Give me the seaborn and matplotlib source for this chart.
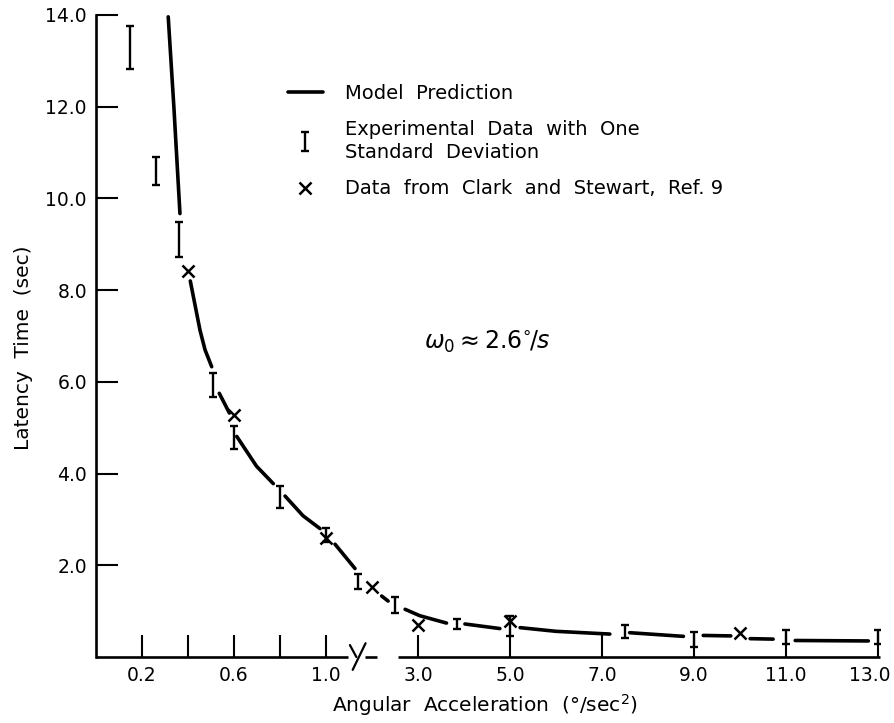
import numpy as np
import pandas as pd
import matplotlib
matplotlib.use("Agg")
import matplotlib.pyplot as plt
import matplotlib.transforms as mtransforms
import seaborn as sns

# ---------------- data ----------------
exp_accel = [0.15, 0.26, 0.36, 0.51, 0.60, 0.80, 1.00, 1.70, 2.50, 3.85, 5.00, 7.50, 9.00, 11.00, 13.00]
exp_latency = [13.30, 10.60, 9.10, 5.93, 4.78, 3.49, 2.66, 1.64, 1.13, 0.72, 0.68, 0.56, 0.38, 0.43, 0.43]
exp_sd = [0.47, 0.31, 0.38, 0.27, 0.25, 0.24, 0.16, 0.16, 0.17, 0.11, 0.22, 0.14, 0.17, 0.15, 0.15]

cs_accel = [0.40, 0.60, 1.00, 2.00, 3.00, 5.00, 10.00]
cs_latency = [8.42, 5.28, 2.60, 1.52, 0.70, 0.79, 0.52]

# model prediction curve, drawn as broken segments around the markers
model_accel = [0.314, 0.339, 0.365,
               0.41, 0.452, 0.474, 0.503,
               0.536, 0.58,
               0.612, 0.698, 0.771,
               0.822, 0.90, 0.974,
               1.196, 1.63,
               2.21, 2.35,
               2.72, 3.04, 3.62,
               4.02, 4.78,
               5.22, 6.0, 7.17,
               7.6, 8.77,
               9.2, 9.8,
               10.22, 10.72,
               11.2, 12.79]
model_latency = [13.96, 11.96, 9.67,
                 8.20, 7.13, 6.70, 6.33,
                 5.75, 5.32,
                 4.81, 4.16, 3.78,
                 3.51, 3.08, 2.80,
                 2.46, 1.93,
                 1.33, 1.22,
                 1.04, 0.90, 0.74,
                 0.72, 0.62,
                 0.64, 0.56, 0.50,
                 0.53, 0.45,
                 0.47, 0.46,
                 0.40, 0.39,
                 0.36, 0.35]
model_segment = [0, 0, 0,
                 1, 1, 1, 1,
                 2, 2,
                 3, 3, 3,
                 4, 4, 4,
                 5, 5,
                 6, 6,
                 7, 7, 7,
                 8, 8,
                 9, 9, 9,
                 10, 10,
                 11, 11,
                 12, 12,
                 13, 13]

x_ticks = [0.2, 0.4, 0.6, 0.8, 1.0, 3.0, 5.0, 7.0, 9.0, 11.0, 13.0]
x_tick_labels = ["0.2", "", "0.6", "", "1.0", "3.0", "5.0", "7.0", "9.0", "11.0", "13.0"]
y_ticks = [2.0, 4.0, 6.0, 8.0, 10.0, 12.0, 14.0]
y_tick_labels = ["2.0", "4.0", "6.0", "8.0", "10.0", "12.0", "14.0"]

# broken x axis: pieces of the axis line and the break mark
axis_pieces = [(0.0, 1.47), (1.85, 2.10), (2.57, 13.05)]
break_mark_x = [[1.52, 1.66], [1.86, 1.58]]
break_mark_y = [[0.26, 0.0], [0.30, -0.28]]

# ---------------- styling ----------------
sns.set_style("white")
plt.rcParams["font.family"] = ["DejaVu Sans"]
plt.rcParams["mathtext.fontset"] = "dejavusans"
for key in ["text.color", "axes.labelcolor", "xtick.color", "ytick.color", "axes.edgecolor"]:
    plt.rcParams[key] = "black"

W, H = 895, 723
fig = plt.figure(figsize=(W / 100, H / 100), dpi=100)
ax = fig.add_axes([96 / W, 66 / H, 784.3 / W, 642 / H])


def fwd(x):
    x = np.asarray(x, dtype=float)
    return np.where(x <= 1.0, x, 1.0 + (x - 1.0) / 5.0)


def inv(y):
    y = np.asarray(y, dtype=float)
    return np.where(y <= 1.0, y, 1.0 + (y - 1.0) * 5.0)


ax.set_xscale("function", functions=(fwd, inv))
ax.set_xlim(0.0, 13.05)
ax.set_ylim(0.0, 14.0)

model_df = pd.DataFrame({"accel": model_accel, "latency": model_latency, "seg": model_segment})
sns.lineplot(data=model_df, x="accel", y="latency", units="seg", estimator=None,
             sort=False, color="black", linewidth=2.6, ax=ax, legend=False)
model_handle = ax.lines[0]

eb = ax.errorbar(exp_accel, exp_latency, yerr=exp_sd, fmt="none", ecolor="black",
                 elinewidth=1.7, capsize=3.2, capthick=1.7)

sns.scatterplot(x=cs_accel, y=cs_latency, marker="x", s=75, color="black",
                linewidth=1.8, ax=ax, legend=False)
cs_handle = ax.collections[-1]

# axes / spines
for side in ["top", "right", "bottom"]:
    ax.spines[side].set_visible(False)
ax.spines["left"].set_linewidth(1.9)

for a, b in axis_pieces:
    ax.plot([a, b], [0, 0], color="black", linewidth=1.9, clip_on=False,
            solid_capstyle="butt")
for bx, by in zip(break_mark_x, break_mark_y):
    ax.plot(bx, by, color="black", linewidth=1.6, clip_on=False)

ax.set_xticks(x_ticks, x_tick_labels)
ax.set_yticks(y_ticks, y_tick_labels)
ax.xaxis.set_minor_locator(matplotlib.ticker.NullLocator())
ax.tick_params(axis="both", which="major", direction="in", length=16, width=1.5,
               colors="black", labelsize=13.5)
ax.tick_params(axis="x", pad=6.5, bottom=True)
ax.tick_params(axis="y", pad=6.5, left=True)
# nudge the last x label so it stays inside the figure, as in the reference
last = ax.get_xticklabels()[-1]
last.set_transform(last.get_transform() + mtransforms.ScaledTranslation(-8 / 100, 0, fig.dpi_scale_trans))

ax.set_xlabel("Angular  Acceleration  (°/sec$^{2}$)", fontsize=14.5)
ax.set_ylabel("Latency  Time  (sec)", fontsize=14.5)
ax.xaxis.label.set_va("center")
ax.yaxis.label.set_va("center")
ax.xaxis.set_label_coords((485 - 96) / 784.3, -(705 - 657) / 642)
ax.yaxis.set_label_coords(-(96 - 24) / 784.3, (657 - 348) / 642)

# legend
leg = ax.legend([model_handle, eb, cs_handle],
                ["Model  Prediction", "Experimental  Data  with  One\nStandard  Deviation",
                 "Data  from  Clark  and  Stewart,  Ref. 9"],
                loc="upper left", bbox_to_anchor=(288 / W, 1 - 84 / H),
                bbox_transform=fig.transFigure, frameon=False, fontsize=14,
                borderpad=0, borderaxespad=0, handlelength=1.8,
                handletextpad=1.13, labelspacing=0.85)
for t in leg.get_texts():
    t.set_linespacing(1.3)

# annotation
fig.text(487 / W, 1 - 342 / H, r"$\mathit{\omega_0\approx 2.6^{\circ}\!/s}$",
         fontsize=17, ha="center", va="center", color="black")

fig.savefig("out.png", dpi=100)
